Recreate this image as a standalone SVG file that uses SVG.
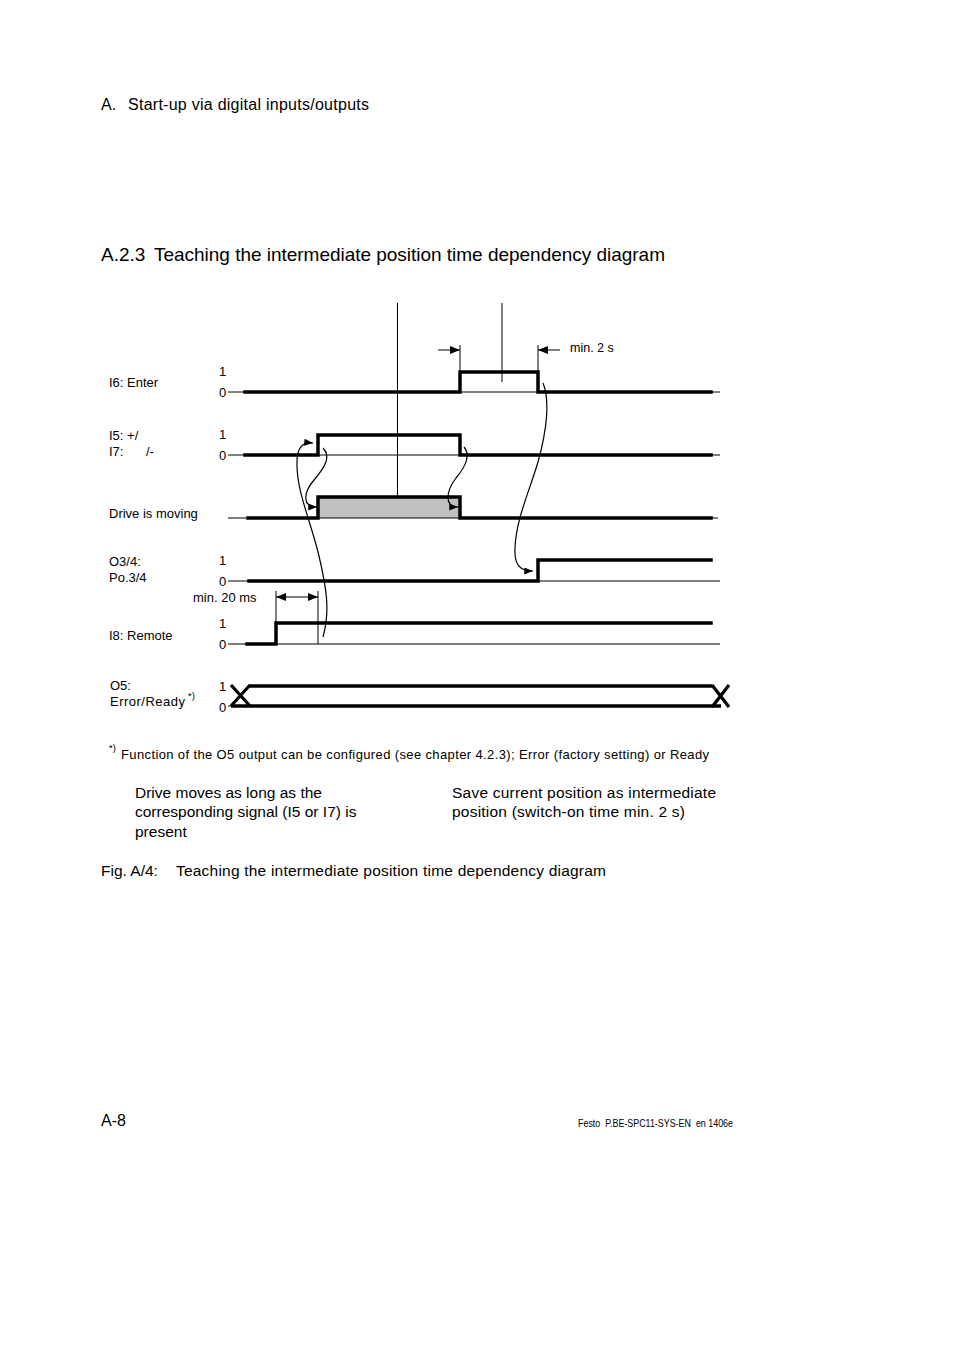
<svg xmlns="http://www.w3.org/2000/svg" width="954" height="1348" viewBox="0 0 954 1348">
<style>
text{font-family:"Liberation Sans",Arial,sans-serif;fill:#000}
.lbl{font-size:13px}
.body{font-size:15.5px}
.thick{stroke:#000;stroke-width:3.5;fill:none;stroke-linecap:square;stroke-linejoin:miter}
.thin{stroke:#000;stroke-width:1;fill:none}
.curve{stroke:#000;stroke-width:1.2;fill:none}
</style>
<defs>
<marker id="ah" viewBox="0 0 10 8" refX="10" refY="4" markerWidth="9" markerHeight="7" markerUnits="userSpaceOnUse" orient="auto"><path d="M0,0 L10,4 L0,8 z" fill="#000"/></marker>
<marker id="ad" viewBox="0 0 10 8" refX="10" refY="4" markerWidth="11" markerHeight="8" markerUnits="userSpaceOnUse" orient="auto-start-reverse"><path d="M0,0 L10,4 L0,8 z" fill="#000"/></marker>
</defs>
<rect width="954" height="1348" fill="#fff"/>

<text x="101" y="110" font-size="16">A.</text>
<text x="128" y="110" font-size="16" textLength="241">Start-up via digital inputs/outputs</text>
<text x="101" y="261" font-size="19">A.2.3</text>
<text x="154" y="261" font-size="19" textLength="511">Teaching the intermediate position time dependency diagram</text>

<g id="cursors">
<line class="thin" x1="397.5" y1="303" x2="397.5" y2="507"/>
<line class="thin" x1="502" y1="303" x2="502" y2="382"/>
</g>

<g id="sig-i6">
<text class="lbl" x="109" y="387">I6: Enter</text>
<text class="lbl" x="219" y="376">1</text>
<text class="lbl" x="219" y="397">0</text>
<line class="thin" x1="228" y1="392" x2="720" y2="392"/>
<polyline class="thick" points="245,392 460,392 460,372 538,372 538,392 711,392"/>
</g>

<g id="sig-i5i7">
<text class="lbl" x="109" y="440">I5: +/</text>
<text class="lbl" x="109" y="456">I7:</text>
<text class="lbl" x="146" y="456">/-</text>
<text class="lbl" x="219" y="439">1</text>
<text class="lbl" x="219" y="460">0</text>
<line class="thin" x1="228" y1="455" x2="720" y2="455"/>
<polyline class="thick" points="245,455 318,455 318,435 460,435 460,455 711,455"/>
</g>

<g id="sig-drive">
<text class="lbl" x="109" y="518">Drive is moving</text>
<rect x="318" y="497" width="142" height="21" fill="#c0c0c0"/>
<line class="thin" x1="228" y1="518" x2="718" y2="518"/>
<polyline class="thick" points="248,518 318,518 318,497 460,497 460,518 711,518"/>
</g>

<g id="sig-o34">
<text class="lbl" x="109" y="566">O3/4:</text>
<text class="lbl" x="109" y="582">Po.3/4</text>
<text class="lbl" x="219" y="565">1</text>
<text class="lbl" x="219" y="586">0</text>
<line class="thin" x1="228" y1="581" x2="720" y2="581"/>
<polyline class="thick" points="249,581 538,581 538,560 711,560"/>
</g>

<g id="sig-i8">
<text class="lbl" x="109" y="640">I8: Remote</text>
<text class="lbl" x="219" y="628">1</text>
<text class="lbl" x="219" y="649">0</text>
<line class="thin" x1="228" y1="644" x2="720" y2="644"/>
<polyline class="thick" points="247,644 276,644 276,623 711,623"/>
</g>

<g id="sig-o5">
<text class="lbl" x="110" y="690">O5:</text>
<text class="lbl" x="110" y="706" textLength="75">Error/Ready</text>
<text x="188" y="699" font-size="9.5">*)</text>
<text class="lbl" x="219" y="691">1</text>
<text class="lbl" x="219" y="712">0</text>
<line class="thin" x1="228" y1="706" x2="233" y2="706"/>
<line stroke="#000" stroke-width="3.5" x1="231" y1="706" x2="721" y2="706"/>
<line stroke="#000" stroke-width="3.5" x1="249" y1="686" x2="712" y2="686"/>
<path d="M231,685 L250,706 M231,706 L250,685 M712,685 L729,707 M712,707 L729,685" stroke="#000" stroke-width="3.2" fill="none"/>
</g>

<g id="connectors">
<line class="thin" x1="460" y1="345" x2="460" y2="372"/>
<line class="thin" x1="538" y1="345" x2="538" y2="372"/>
<line class="thin" x1="438" y1="350" x2="460" y2="350" marker-end="url(#ad)"/>
<line class="thin" x1="560" y1="350" x2="538" y2="350" marker-end="url(#ad)"/>
<text x="570" y="352" font-size="12.5">min. 2 s</text>
<line class="thin" x1="276" y1="591" x2="276" y2="623"/>
<line class="thin" x1="318" y1="591" x2="318" y2="644"/>
<line class="thin" x1="276" y1="597" x2="318" y2="597" marker-start="url(#ad)" marker-end="url(#ad)"/>
<text class="lbl" x="193" y="602">min. 20 ms</text>
<path class="curve" d="M323,637 C330,612 327,590 319,556 C311,522 296,490 297,462 C297,448 302,442 313,443" marker-end="url(#ah)"/>
<path class="curve" d="M323,448 C331,456 326,466 314,480 C303,493 302,507 317,507" marker-end="url(#ah)"/>
<path class="curve" d="M464,447 C471,455 466,466 456,478 C446,491 444,507 458,507" marker-end="url(#ah)"/>
<path class="curve" d="M543,383 C550,400 547,430 538,462 C528,495 516,520 515,548 C514,565 520,571 533,571" marker-end="url(#ah)"/>
</g>

<g id="notes">
<text x="109" y="751" font-size="9.5">*)</text>
<text x="121" y="759" font-size="13" textLength="588">Function of the O5 output can be configured (see chapter 4.2.3); Error (factory setting) or Ready</text>
<text class="body" x="135" y="798">Drive moves as long as the</text>
<text class="body" x="135" y="817">corresponding signal (I5 or I7) is</text>
<text class="body" x="135" y="837">present</text>
<text class="body" x="452" y="798" textLength="264">Save current position as intermediate</text>
<text class="body" x="452" y="817" textLength="233">position (switch-on time min. 2 s)</text>
<text class="body" x="101" y="876">Fig. A/4:</text>
<text class="body" x="176" y="876" textLength="430">Teaching the intermediate position time dependency diagram</text>
</g>

<g id="footer">
<text x="101" y="1126" font-size="16">A-8</text>
<text x="578" y="1127" font-size="11.5" style="white-space:pre" textLength="155" lengthAdjust="spacingAndGlyphs">Festo  P.BE-SPC11-SYS-EN  en 1406e</text>
</g>
</svg>
